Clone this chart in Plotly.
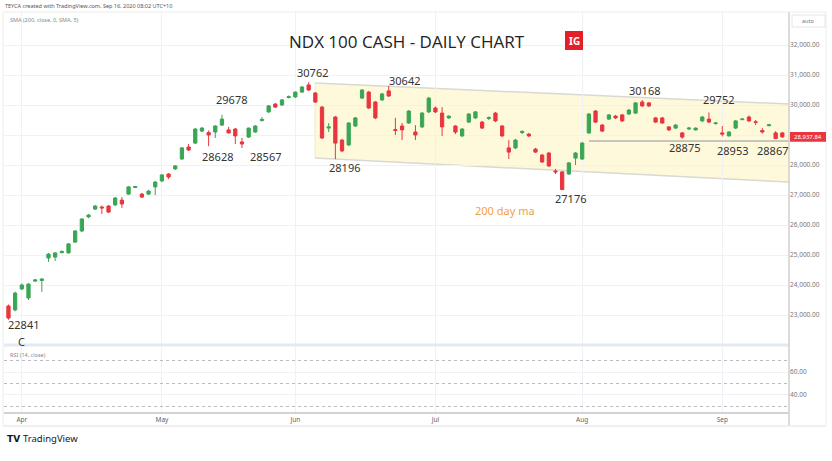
import plotly.graph_objects as go

# ---------------- data ----------------
opens = [23300, 23170, 23870, 23570, 24130, 24150, 24900, 24930, 25080, 25070,
         25430, 25800, 26270, 26530, 26600, 26630, 26670, 26830, 27030, 27250,
         27030, 27030, 27270, 27470, 27700, 27870, 28200, 28600, 28730, 29130,
         29080, 29100, 29330, 29170, 29200, 28770, 28930, 29100, 29480, 29770,
         30030, 30000, 30250, 30270, 30430, 30670, 30400, 29930, 29230, 29600,
         28830, 28670, 29300, 30230, 30430, 30100, 30170, 30470, 29180, 29300,
         29400, 29100, 29270, 29770, 29900, 29730, 29570, 29300, 28970, 29430,
         29570, 29430, 29550, 29730, 29300, 28570, 28570, 29080, 29030, 28530,
         28330, 28400, 27800, 27770, 27700, 28230, 28200, 29070, 29800, 29330,
         29530, 29630, 29670, 29700, 29730, 30100, 30070, 29570, 29570, 29270,
         29230, 29070, 29200, 29170, 29470, 29530, 29380, 29070, 28970, 29230,
         29510, 29600, 29440, 29150, 29310, 29070, 29070]
highs = [23350, 23780, 24050, 24060, 24200, 24230, 25070, 25100, 25150, 25400,
         25830, 26230, 26370, 26670, 26650, 26670, 26930, 26930, 27300, 27300,
         27070, 27170, 27470, 27700, 27730, 28000, 28600, 28700, 29230, 29270,
         29150, 29330, 29678, 29270, 29230, 28900, 29250, 29330, 29600, 30000,
         30070, 30200, 30320, 30450, 30630, 30762, 30430, 29970, 29400, 29630,
         28870, 29430, 29600, 30530, 30470, 30130, 30400, 30642, 29570, 29400,
         29830, 29330, 29770, 30270, 29950, 29930, 29650, 29330, 29230, 29730,
         29800, 29470, 29620, 29770, 29330, 28830, 28870, 29150, 29070, 28570,
         28370, 28430, 27870, 27800, 28100, 28430, 28770, 29730, 29830, 29370,
         29700, 29670, 29700, 29870, 30100, 30168, 30100, 29600, 29600, 29300,
         29370, 29100, 29270, 29250, 29630, 29752, 29430, 29300, 29130, 29500,
         29560, 29650, 29500, 29230, 29370, 29130, 29100]
lows = [22841, 23120, 23830, 23500, 24100, 23770, 24770, 24800, 25050, 25050,
        25400, 25770, 26230, 26500, 26370, 26400, 26630, 26570, 27000, 27230,
        26900, 27000, 27000, 27430, 27530, 27830, 28170, 28470, 28700, 29100,
        28628, 28900, 29300, 29050, 28700, 28567, 28900, 29070, 29450, 29730,
        29900, 29970, 30220, 30230, 30400, 30470, 30070, 28870, 29100, 28196,
        28430, 28630, 29270, 30200, 29870, 29530, 30130, 30270, 29000, 28830,
        29370, 28830, 29230, 29730, 29730, 28970, 29530, 29030, 28930, 29400,
        29530, 29200, 29500, 29430, 28930, 28200, 28530, 29030, 28930, 28400,
        28070, 27930, 27700, 27176, 27670, 28000, 28170, 29030, 29400, 29100,
        29500, 29530, 29430, 29670, 29700, 29930, 29930, 29400, 29370, 29130,
        29200, 28875, 29170, 29150, 29430, 29400, 29350, 28953, 28950, 29200,
        29500, 29430, 29330, 29050, 29290, 28867, 28900]
closes = [22900, 23730, 24000, 24030, 24170, 24200, 25030, 25070, 25120, 25370,
          25800, 26200, 26330, 26630, 26570, 26430, 26900, 26700, 27270, 27280,
          26930, 27130, 27430, 27670, 27600, 27970, 28570, 28500, 29200, 29230,
          29000, 29300, 29530, 29070, 28970, 28700, 29230, 29300, 29520, 29970,
          29930, 30170, 30280, 30430, 30600, 30500, 30100, 28900, 29270, 28730,
          28470, 29400, 29570, 30500, 29900, 29570, 30370, 30300, 29150, 29170,
          29800, 29000, 29730, 30230, 29770, 29270, 29630, 29100, 29200, 29700,
          29770, 29230, 29580, 29470, 28970, 28430, 28830, 29120, 28970, 28430,
          28100, 27970, 27770, 27180, 28070, 28400, 28730, 29700, 29430, 29130,
          29670, 29570, 29470, 29830, 30070, 29970, 29970, 29430, 29400, 29170,
          29330, 28930, 29230, 29230, 29600, 29430, 29400, 29030, 29100, 29470,
          29530, 29470, 29420, 29100, 29340, 28880, 28937.84]

bars = list(range(len(closes)))          # trading-day index

month_tick_bars = [2, 23, 43, 64, 86, 107]
month_labels = ["Apr", "May", "Jun", "Jul", "Aug", "Sep"]

price_ticks = [23000, 24000, 25000, 26000, 27000, 28000, 29000, 30000, 31000, 32000]
rsi_ticks = [40, 60]
rsi_levels = [70, 50, 30]

# channel drawing (bar position, price)
channel_bars = [45.95, 117.0]
channel_top = [30733, 30033]
channel_bottom = [28233, 27433]
support_bars = [87, 117.0]
support_price = 28800

# price labels: (text, bar position, price)
labels = [
    ("22841", 2.3, 22690), ("C", 1.9, 22130),
    ("29678", 33.5, 30170), ("28628", 31.4, 28270), ("28567", 38.5, 28270),
    ("30762", 45.5, 31070), ("30642", 59.4, 30830), ("28196", 50.4, 27930),
    ("27176", 84.3, 26870), ("30168", 95.4, 30500), ("29752", 106.4, 30170),
    ("28875", 101.4, 28570), ("28953", 108.5, 28500), ("28867", 114.5, 28470),
]

GREEN = "#3aa655"
RED = "#e8363f"
GRID = "#eef1f6"
FONT = "Noto Sans"

# ---------------- layout geometry ----------------
W, H = 832, 461
L, R, T, B = 4, 43, 12, 49
PW, PH = W - L - R, H - T - B
def px(x):
    return (x - L) / PW
def py(y):
    return (H - B - y) / PH

main_bottom = py(345)
last = closes[-1]
# the last-price tag covers the scale label underneath it
price_tick_text = ["" if abs(v - last) < 300 else f"{v:,.2f}" for v in price_ticks]

fig = go.Figure()
fig.add_trace(go.Candlestick(
    x=bars, open=opens, high=highs, low=lows, close=closes,
    increasing=dict(line=dict(color=GREEN, width=1), fillcolor=GREEN),
    decreasing=dict(line=dict(color=RED, width=1), fillcolor=RED),
    whiskerwidth=0, showlegend=False, hoverinfo="skip",
    xaxis="x", yaxis="y"))
fig.add_trace(go.Scatter(x=bars, y=[None] * len(bars), xaxis="x", yaxis="y2",
                         showlegend=False, hoverinfo="skip"))

shapes = []
# channel
shapes.append(dict(type="path", xref="x", yref="y", layer="below",
                   path=f"M {channel_bars[0]},{channel_bottom[0]} L {channel_bars[0]},{channel_top[0]} "
                        f"L {channel_bars[1]},{channel_top[1]} L {channel_bars[1]},{channel_bottom[1]} Z",
                   fillcolor="rgba(255,236,140,0.30)", line=dict(width=0)))
for edge in (channel_top, channel_bottom):
    shapes.append(dict(type="line", xref="x", yref="y", layer="below",
                       x0=channel_bars[0], x1=channel_bars[1], y0=edge[0], y1=edge[1],
                       line=dict(color="#d9d9d2", width=1.5)))
shapes.append(dict(type="line", xref="x", yref="y", layer="below",
                   x0=channel_bars[0], x1=channel_bars[0], y0=channel_bottom[0], y1=channel_top[0],
                   line=dict(color="#efe9c8", width=1)))
# support line
shapes.append(dict(type="line", xref="x", yref="y",
                   x0=support_bars[0], x1=support_bars[1], y0=support_price, y1=support_price,
                   line=dict(color="#b5b5b5", width=1.5)))
# RSI levels
for lv in rsi_levels:
    shapes.append(dict(type="line", xref="paper", yref="y2", x0=0, x1=1, y0=lv, y1=lv,
                       line=dict(color="#b8bcc4", width=1, dash="dot")))
# panel separator
shapes.append(dict(type="line", xref="paper", yref="paper", x0=0, x1=1,
                   y0=main_bottom, y1=main_bottom, line=dict(color="#e3eaf4", width=3)))
# right price scale separator
shapes.append(dict(type="line", xref="paper", yref="paper", x0=1, x1=1,
                   y0=py(426), y1=1, line=dict(color="#cfcfcf", width=1.5)))
# date axis bottom
shapes.append(dict(type="line", xref="paper", yref="paper", x0=px(3), x1=px(826),
                   y0=py(426), y1=py(426), line=dict(color="#ececec", width=1)))
# outer frame
shapes.append(dict(type="rect", xref="paper", yref="paper", x0=px(3), x1=px(826),
                   y0=py(426), y1=py(12), line=dict(color="#ececec", width=1)))
# top-right scale box
shapes.append(dict(type="rect", xref="paper", yref="paper", x0=px(792), x1=px(825),
                   y0=py(27), y1=py(15), line=dict(color="#e6e6e6", width=1)))
# IG logo box
shapes.append(dict(type="rect", xref="paper", yref="paper", x0=px(565), x1=px(583),
                   y0=py(50), y1=py(31), fillcolor="#e3202a", line=dict(width=0)))
# last price tag
shapes.append(dict(type="rect", xref="paper", yref="y", x0=px(790), x1=px(826),
                   y0=last - 165, y1=last + 165, fillcolor=RED, line=dict(width=0)))

ann = []
def add(text, x, y, xref="paper", yref="paper", size=11, color="#333333",
        family=FONT, xanchor="center"):
    ann.append(dict(x=x, y=y, xref=xref, yref=yref, text=text, showarrow=False,
                    xanchor=xanchor, yanchor="middle",
                    font=dict(family=family, size=size, color=color)))

for text, bx, pr in labels:
    add(text, bx, pr, "x", "y")
add("200 day ma", 74.4, 26500, "x", "y", color="#f5a03c")
add("NDX 100 CASH - DAILY CHART", px(407), py(42), size=17, color="#222222",
    family="Open Sans")
add("<b>IG</b>", px(574), py(40.5), size=10, color="white")
add("TEYCA created with TradingView.com, Sep 16, 2020 08:02 UTC+10", px(3), py(6),
    size=5.5, color="#555555", xanchor="left")
add("SMA (200, close, 0, SMA, 5)", px(8), py(20), size=5.5, color="#888888", xanchor="left")
add("RSI (14, close)", px(8), py(355), size=5.5, color="#888888", xanchor="left")
add("auto", px(808), py(21), size=5.5, color="#777777")
add(f"{last:,.2f}", px(808), last, yref="y", size=6, color="white")
add("<b>TV</b>", px(5), py(439), size=9, color="#131722", family="DejaVu Sans", xanchor="left")
add("TradingView", px(21), py(439), size=9.5, color="#131722", xanchor="left")

fig.update_layout(
    width=W, height=H, margin=dict(l=L, r=R, t=T, b=B),
    paper_bgcolor="white", plot_bgcolor="white",
    boxgap=0.3,
    xaxis=dict(domain=[0, 1], anchor="y2", range=[-0.67, 117.0],
               tickvals=month_tick_bars, ticktext=month_labels,
               showgrid=True, gridcolor=GRID, zeroline=False,
               showline=True, linecolor="#d3d3d3", linewidth=2,
               ticks="", tickfont=dict(family=FONT, size=6.5, color="#666666"),
               rangeslider=dict(visible=False), fixedrange=True),
    yaxis=dict(domain=[main_bottom, 1], anchor="x", side="right",
               range=[22000, 33100], tickvals=price_ticks, ticktext=price_tick_text,
               showgrid=True, gridcolor=GRID, zeroline=False, ticks="",
               tickfont=dict(family=FONT, size=6.5, color="#777777")),
    yaxis2=dict(domain=[0, main_bottom], anchor="x", side="right",
                range=[25.2, 83.5], tickvals=rsi_ticks, tickformat=".2f",
                showgrid=True, gridcolor=GRID, zeroline=False, ticks="",
                tickfont=dict(family=FONT, size=6.5, color="#777777")),
    shapes=shapes, annotations=ann, showlegend=False,
)

fig.write_html("out.html", config={"displayModeBar": False},
               post_script="document.body.style.margin='0px';")
